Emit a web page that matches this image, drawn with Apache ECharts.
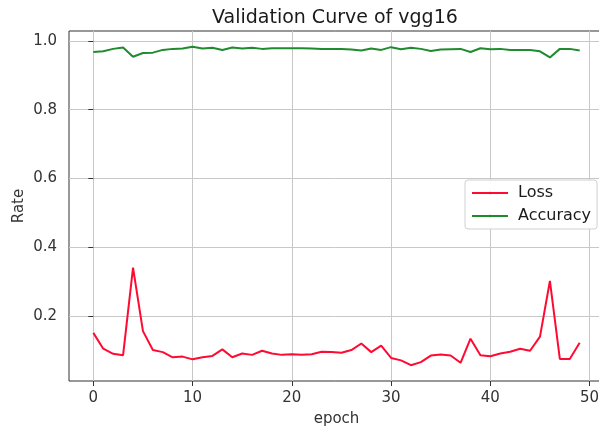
<!DOCTYPE html>
<html>
<head>
<meta charset="utf-8">
<script src="https://cdn.jsdelivr.net/npm/echarts@6/dist/echarts.min.js"></script>
<style>html,body{margin:0;padding:0;background:#fff}#c{width:599px;height:432px}</style>
</head>
<body>
<div id="c"></div>
<script>
const epochs = Array.from({length: 50}, (_, i) => i);
const lossValues = [0.151,0.105,0.090,0.086,0.341,0.156,0.101,0.095,0.080,0.082,
  0.074,0.080,0.084,0.103,0.080,0.091,0.087,0.099,0.091,0.087,
  0.089,0.087,0.089,0.096,0.095,0.093,0.101,0.120,0.095,0.114,
  0.078,0.071,0.057,0.066,0.085,0.088,0.085,0.064,0.134,0.086,
  0.083,0.091,0.096,0.105,0.099,0.140,0.302,0.075,0.075,0.122];
const accValues = [0.968,0.970,0.977,0.981,0.954,0.965,0.966,0.974,0.977,0.978,
  0.983,0.978,0.980,0.974,0.981,0.978,0.980,0.977,0.979,0.979,
  0.979,0.979,0.978,0.977,0.977,0.977,0.975,0.972,0.978,0.974,
  0.982,0.976,0.980,0.977,0.971,0.975,0.976,0.977,0.968,0.979,
  0.976,0.977,0.974,0.974,0.974,0.970,0.952,0.977,0.977,0.972];
const xTicks = [0,10,20,30,40,50];
const yTicks = [0.2,0.4,0.6,0.8,1.0];

const font = 'DejaVu Sans';
const chart = echarts.init(document.getElementById('c'), null, {renderer: 'canvas'});
chart.setOption({
  animation: false,
  backgroundColor: '#fff',
  title: {
    text: 'Validation Curve of vgg16', left: 207, top: 4,
    textStyle: {fontFamily: font, fontSize: 19, fontWeight: 'normal', color: '#1a1a1a'}
  },
  grid: {left: 69, top: 31, width: 535, height: 350, show: true, borderColor: '#333', borderWidth: 1,
    backgroundColor: 'transparent', outerBoundsMode: 'none', containLabel: false},
  legend: {
    orient: 'vertical', left: 465, top: 180,
    data: ['Loss', 'Accuracy'],
    itemWidth: 36, itemHeight: 3, itemGap: 7,
    backgroundColor: '#fff', borderColor: '#d0d0d0', borderWidth: 1, borderRadius: 3,
    padding: [5, 6, 5, 6],
    textStyle: {fontFamily: font, fontSize: 16, color: '#1a1a1a', padding: [0, 0, 0, 5]}
  },
  xAxis: {
    type: 'value', min: -2.45, max: 51.45,
    name: 'epoch', nameLocation: 'middle', nameGap: 31, nameMoveOverlap: false,
    nameTextStyle: {fontFamily: font, fontSize: 15, color: '#333'},
    axisLine: {show: false},
    axisTick: {show: true, length: 5, lineStyle: {color: '#333'}, customValues: xTicks},
    axisLabel: {customValues: xTicks, fontFamily: font, fontSize: 15, color: '#333', margin: 10},
    splitLine: {show: true, customValues: xTicks, lineStyle: {color: '#c8c8c8', width: 1}}
  },
  yAxis: {
    type: 'value', min: 0.011, max: 1.029,
    name: 'Rate', nameLocation: 'middle', nameGap: 42, nameRotate: 90, nameMoveOverlap: false,
    nameTextStyle: {fontFamily: font, fontSize: 15, color: '#333'},
    axisLine: {show: false},
    axisTick: {show: true, length: 5, lineStyle: {color: '#333'}, customValues: yTicks},
    axisLabel: {customValues: yTicks, fontFamily: font, fontSize: 15, color: '#333', margin: 12,
      formatter: v => v.toFixed(1)},
    splitLine: {show: true, customValues: yTicks, lineStyle: {color: '#c8c8c8', width: 1}}
  },
  series: [
    {name: 'Loss', type: 'line', symbol: 'none', data: epochs.map((e, i) => [e, lossValues[i]]),
     lineStyle: {color: '#ff0a32', width: 2}, itemStyle: {color: '#ff0a32'}},
    {name: 'Accuracy', type: 'line', symbol: 'none', data: epochs.map((e, i) => [e, accValues[i]]),
     lineStyle: {color: '#1f8a2e', width: 2}, itemStyle: {color: '#1f8a2e'}}
  ]
});
</script>
</body>
</html>
